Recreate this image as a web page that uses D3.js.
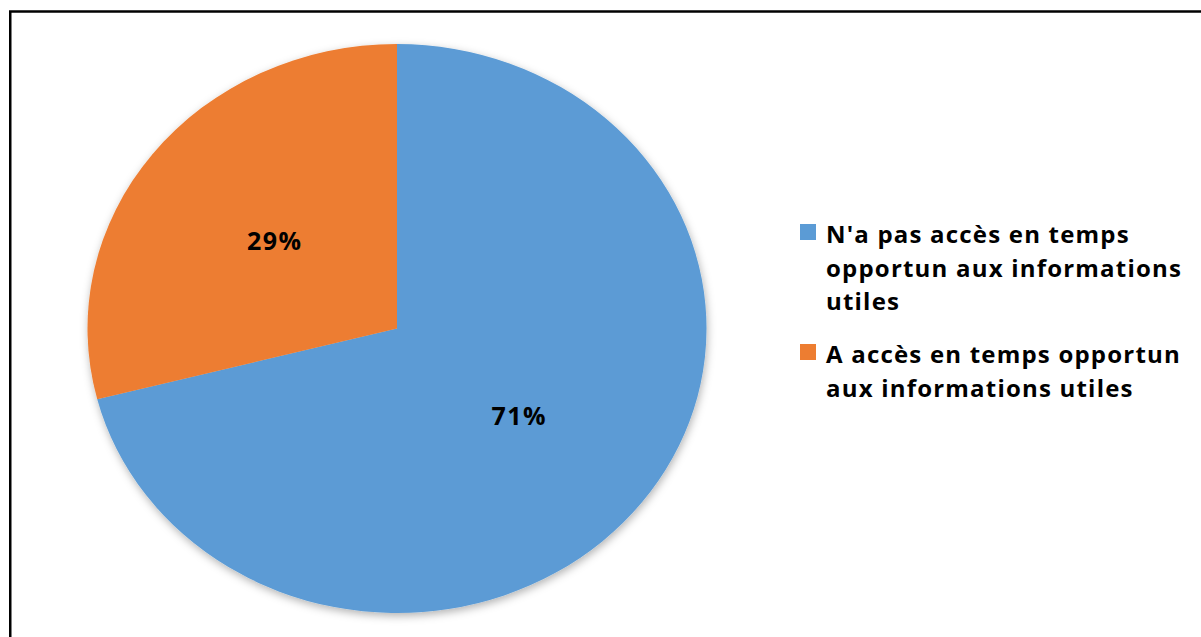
<!DOCTYPE html>
<html>
<head>
<meta charset="utf-8">
<script src="https://cdn.jsdelivr.net/npm/d3@7"></script>
<style>
  html, body { margin: 0; padding: 0; background: #fff; }
  svg { display: block; }
  text { font-family: "Open Sans", "DejaVu Sans", sans-serif; font-weight: 700; fill: #000; }
</style>
</head>
<body>
<svg id="chart" width="1201" height="637"></svg>
<script>
// Survey result: timely access to useful information
const categories = [
  "N'a pas accès en temps opportun aux informations utiles",
  "A accès en temps opportun aux informations utiles"
];
const values = [71, 29];
const colors = ["#5B9BD5", "#ED7D31"];
// Legend text broken into lines as displayed
const legendLines = [
  ["N'a pas accès en temps", "opportun aux informations", "utiles"],
  ["A accès en temps opportun", "aux informations utiles"]
];

const svg = d3.select("#chart");
const W = 1201, H = 637;

// Frame (runs off the right and bottom edges)
svg.append("rect")
  .attr("x", 10.25).attr("y", 11.5)
  .attr("width", W + 20).attr("height", H + 20)
  .attr("fill", "#fff")
  .attr("stroke", "#000")
  .attr("stroke-width", 2.5);

// Soft drop shadow under the pie
const defs = svg.append("defs");
const f = defs.append("filter").attr("id", "pieShadow")
  .attr("x", "-20%").attr("y", "-20%").attr("width", "140%").attr("height", "140%");
f.append("feDropShadow")
  .attr("dx", 1).attr("dy", 3)
  .attr("stdDeviation", 4)
  .attr("flood-color", "#000")
  .attr("flood-opacity", 0.3);

// Pie geometry: slightly wider than tall
const cx = 397, cy = 328.5, rx = 309.5, ry = 284.5;
const r = rx;

const pie = d3.pie().sort(null).value(d => d.value);
const arcs = pie(values.map((v, i) => ({ value: v, name: categories[i], color: colors[i] })));
const arc = d3.arc().innerRadius(0).outerRadius(r);

const pieG = svg.append("g")
  .attr("filter", "url(#pieShadow)");
const inner = pieG.append("g")
  .attr("transform", `translate(${cx},${cy}) scale(1,${ry / rx})`);

inner.selectAll("path")
  .data(arcs)
  .join("path")
  .attr("d", arc)
  .attr("fill", d => d.data.color);

// Value labels at each slice centroid
svg.append("g").selectAll("text")
  .data(arcs)
  .join("text")
  .attr("x", d => cx + arc.centroid(d)[0])
  .attr("y", d => cy + arc.centroid(d)[1] * ry / rx)
  .attr("dy", "0.36em")
  .attr("text-anchor", "middle")
  .attr("font-size", 25)
  .attr("letter-spacing", 1.5)
  .text(d => d.data.value + "%");

// Legend
const legend = svg.append("g");
const lx = 800, lineH = 33.5;
const firstBase = [243, 363];
legendLines.forEach((lines, i) => {
  const g = legend.append("g");
  g.append("rect")
    .attr("x", lx).attr("y", firstBase[i] - 19)
    .attr("width", 16).attr("height", 16)
    .attr("fill", colors[i]);
  const t = g.append("text")
    .attr("x", lx + 26)
    .attr("y", firstBase[i])
    .attr("font-size", 24)
    .attr("letter-spacing", 1.2);
  lines.forEach((ln, j) => {
    t.append("tspan")
      .attr("x", lx + 26)
      .attr("y", firstBase[i] + j * lineH)
      .text(ln);
  });
});
</script>
</body>
</html>
